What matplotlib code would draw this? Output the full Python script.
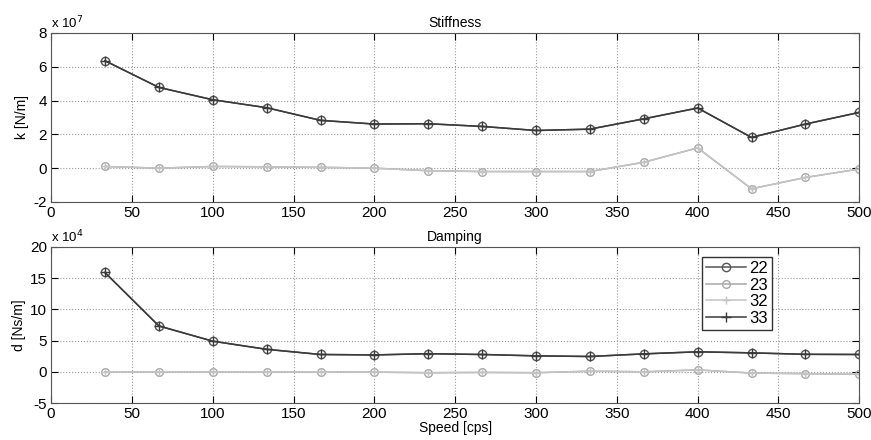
import numpy as np
from matplotlib import pyplot as plt

# speed [cps]
speed = [33.3, 66.7, 100, 133.3, 166.7, 200, 233.3, 266.7, 300, 333.3, 366.7, 400, 433.3, 466.7, 500]

# stiffness, x 1e7 N/m
k22 = [6.36, 4.78, 4.05, 3.58, 2.83, 2.61, 2.63, 2.47, 2.23, 2.31, 2.92, 3.56, 1.82, 2.61, 3.30]
k23 = [0.10, 0.00, 0.10, 0.08, 0.05, 0.00, -0.15, -0.20, -0.20, -0.20, 0.35, 1.20, -1.22, -0.55, -0.05]
k32 = [0.10, 0.00, 0.10, 0.08, 0.05, 0.00, -0.15, -0.20, -0.20, -0.20, 0.35, 1.20, -1.22, -0.55, -0.05]
k33 = [6.36, 4.78, 4.05, 3.58, 2.83, 2.61, 2.63, 2.47, 2.23, 2.31, 2.92, 3.56, 1.82, 2.61, 3.30]

# damping, x 1e4 Ns/m
d22 = [15.9, 7.34, 4.9, 3.6, 2.77, 2.7, 2.9, 2.77, 2.55, 2.45, 2.87, 3.2, 3.03, 2.8, 2.77]
d23 = [0.0, 0.0, 0.0, 0.0, 0.0, -0.05, -0.15, -0.1, -0.15, 0.1, 0.0, 0.3, -0.2, -0.3, -0.4]
d32 = [0.0, 0.0, 0.0, 0.0, 0.0, -0.05, -0.15, -0.1, -0.15, 0.1, 0.0, 0.3, -0.2, -0.3, -0.4]
d33 = [15.9, 7.34, 4.9, 3.6, 2.77, 2.7, 2.9, 2.77, 2.55, 2.45, 2.87, 3.2, 3.03, 2.8, 2.77]

labels = ['22', '23', '32', '33']
styles = [
    dict(color='#555555', marker='o', mfc='none', ms=6),
    dict(color='#a8a8a8', marker='o', mfc='none', ms=5.5),
    dict(color='#c4c4c4', marker='+', ms=6),
    dict(color='#3a3a3a', marker='+', ms=7),
]

plt.rcParams['font.family'] = ['Liberation Sans', 'DejaVu Sans']
plt.rcParams['font.size'] = 10
plt.rcParams['axes.unicode_minus'] = False

fig = plt.figure(figsize=(8.71, 4.4), dpi=100)
ax1 = fig.add_axes([0.0586, 0.541, 0.928, 0.384])
ax2 = fig.add_axes([0.0586, 0.084, 0.928, 0.355])


def setup(ax, ylim, yticks, title, ylabel, exp):
    ax.set_xlim(0, 500)
    ax.set_ylim(*ylim)
    ax.set_xticks(range(0, 501, 50))
    ax.set_yticks(yticks)
    ax.grid(True, linestyle=':', color='#9a9a9a', linewidth=0.8)
    ax.tick_params(direction='in', length=5, top=True, right=True, labelsize=11, pad=3)
    for s in ax.spines.values():
        s.set_color('#555555')
    ax.set_title(title, fontsize=10, pad=4)
    ax.set_ylabel(ylabel, fontsize=10, labelpad=3)
    ax.text(0.0, 1.01, 'x 10$^{%d}$' % exp, transform=ax.transAxes, fontsize=9.5, va='bottom', ha='left')


for vals, lab, st in zip([k22, k23, k32, k33], labels, styles):
    ax1.plot(speed, vals, label=lab, linewidth=1.1, **st)
for vals, lab, st in zip([d22, d23, d32, d33], labels, styles):
    ax2.plot(speed, vals, label=lab, linewidth=1.1, **st)

setup(ax1, (-2, 8), range(-2, 9, 2), 'Stiffness', 'k [N/m]', 7)
setup(ax2, (-5, 20), range(-5, 21, 5), 'Damping', 'd [Ns/m]', 4)
ax2.set_xlabel('Speed [cps]', fontsize=10, labelpad=0)

leg = ax2.legend(loc='upper left', bbox_to_anchor=(0.795, 0.99), fancybox=False,
                 edgecolor='#333333', fontsize=12, handlelength=2.4, borderpad=0.25,
                 labelspacing=0.1, handletextpad=0.2, framealpha=1)
leg.get_frame().set_linewidth(1.0)

fig.savefig('out.png', dpi=100)
